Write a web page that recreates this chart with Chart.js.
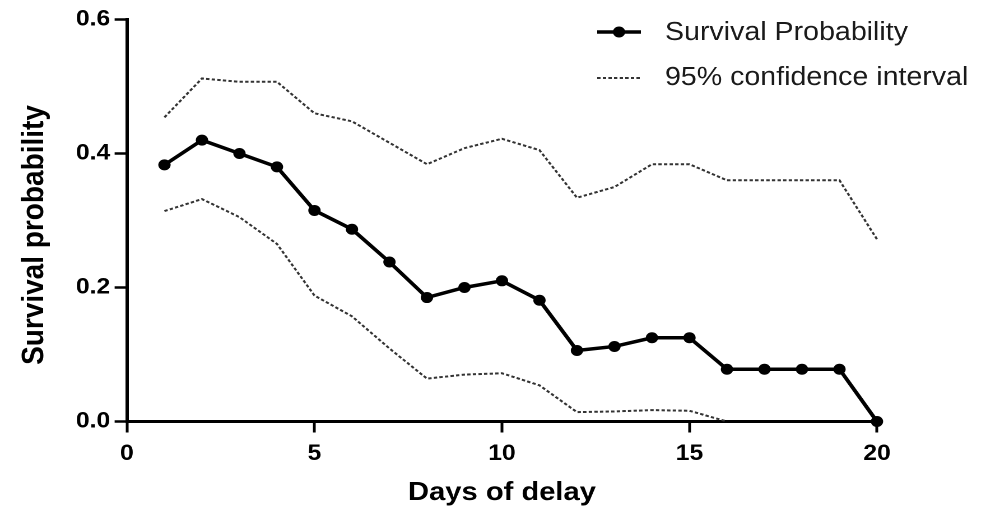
<!DOCTYPE html>
<html>
<head>
<meta charset="utf-8">
<script src="https://cdn.jsdelivr.net/npm/chart.js@4.4.1/dist/chart.umd.min.js"></script>
<style>
  html, body { margin: 0; padding: 0; background: #fff; overflow: hidden; }
  #wrap { width: 880px; height: 506px; transform: scaleX(1.12045); transform-origin: 0 0; }
</style>
</head>
<body>
<div id="wrap"><canvas id="c" width="880" height="506"></canvas></div>
<script>
// Days after which survival is estimated
const days = [1, 2, 3, 4, 5, 6, 7, 8, 9, 10, 11, 12, 13, 14, 15, 16, 17, 18, 19, 20];

// Estimated survival probability per day
const survival = [0.383, 0.420, 0.400, 0.380, 0.315, 0.287, 0.238, 0.185, 0.200, 0.210,
                  0.181, 0.106, 0.112, 0.125, 0.125, 0.078, 0.078, 0.078, 0.078, 0.000];

// Upper and lower bounds of the 95% confidence interval
const upperCI = [0.454, 0.512, 0.507, 0.507, 0.460, 0.448, 0.416, 0.384, 0.408, 0.422,
                 0.405, 0.334, 0.350, 0.384, 0.384, 0.360, 0.360, 0.360, 0.360, 0.272];
const lowerCI = [0.314, 0.332, 0.305, 0.265, 0.188, 0.157, 0.109, 0.064, 0.070, 0.072,
                 0.054, 0.014, 0.015, 0.017, 0.016, 0.000];

const xTicks = [0, 5, 10, 15, 20];
const yTicks = [0.0, 0.2, 0.4, 0.6];

const xTitle = 'Days of delay';
const yTitle = 'Survival probability';
const seriesLabel = 'Survival Probability';
const ciLabel = '95% confidence interval';

const FONT = "'Liberation Sans', Arial, Helvetica, sans-serif";

const toPoints = (vals) => vals.map((v, i) => ({ x: days[i], y: v }));

// Rotated y title and the legend box in the upper right
const decorations = {
  id: 'decorations',
  afterDraw(chart) {
    const ctx = chart.ctx;
    ctx.save();
    ctx.fillStyle = '#000';
    ctx.font = `bold 28px ${FONT}`;
    ctx.textAlign = 'center';
    ctx.textBaseline = 'middle';
    ctx.translate(31, 235);
    ctx.rotate(-Math.PI / 2);
    ctx.fillText(yTitle, 0, 0);
    ctx.restore();

    const main = chart.data.datasets[0];
    const ci = chart.data.datasets[1];
    const x0 = 533, x1 = 572, tx = 593.5;
    ctx.save();
    // solid line with marker
    ctx.strokeStyle = main.borderColor;
    ctx.lineWidth = main.borderWidth;
    ctx.beginPath(); ctx.moveTo(x0, 32); ctx.lineTo(x1, 32); ctx.stroke();
    ctx.fillStyle = main.backgroundColor;
    ctx.beginPath(); ctx.arc((x0 + x1) / 2, 32, main.pointRadius, 0, Math.PI * 2); ctx.fill();
    // dotted line
    ctx.strokeStyle = ci.borderColor;
    ctx.lineWidth = ci.borderWidth;
    ctx.setLineDash(ci.borderDash);
    ctx.beginPath(); ctx.moveTo(x0, 78); ctx.lineTo(x1, 78); ctx.stroke();
    ctx.setLineDash([]);
    // labels
    ctx.fillStyle = '#1a1a1a';
    ctx.font = `25.5px ${FONT}`;
    ctx.textAlign = 'left';
    ctx.textBaseline = 'middle';
    ctx.fillText(seriesLabel, tx, 33);
    ctx.fillText(ciLabel, tx, 78);
    ctx.restore();
  }
};

const tickFont = { family: FONT, size: 22, weight: 'bold' };

new Chart(document.getElementById('c'), {
  type: 'line',
  data: {
    datasets: [
      {
        label: seriesLabel,
        data: toPoints(survival),
        borderColor: '#000',
        backgroundColor: '#000',
        borderWidth: 3.5,
        pointRadius: 5.5,
        pointBorderWidth: 0,
        pointBackgroundColor: '#000',
        tension: 0,
        clip: false,
        order: 0
      },
      {
        label: ciLabel,
        data: toPoints(upperCI),
        borderColor: '#333',
        borderWidth: 2,
        borderDash: [3, 2],
        pointRadius: 0,
        tension: 0,
        clip: false,
        order: 1
      },
      {
        label: ciLabel + ' (lower)',
        data: toPoints(lowerCI),
        borderColor: '#333',
        borderWidth: 2,
        borderDash: [3, 2],
        pointRadius: 0,
        tension: 0,
        clip: false,
        order: 1
      }
    ]
  },
  options: {
    responsive: false,
    devicePixelRatio: 2,
    animation: false,
    layout: { padding: { left: 0, top: 19.5, right: 97.3, bottom: 0 } },
    plugins: { legend: { display: false }, tooltip: { enabled: false } },
    scales: {
      x: {
        type: 'linear',
        min: 0,
        max: 20,
        afterFit(s) { s.height = 84.5; },
        afterBuildTicks(s) { s.ticks = xTicks.map(v => ({ value: v })); },
        border: { display: true, width: 3, color: '#000' },
        grid: { drawOnChartArea: false, drawTicks: true, tickLength: 11, tickWidth: 2.5, tickColor: '#000' },
        ticks: { padding: 8, color: '#000', font: tickFont, maxRotation: 0 },
        title: {
          display: true,
          text: xTitle,
          color: '#000',
          font: { family: FONT, size: 26, weight: 'bold', lineHeight: 1.0 },
          padding: { top: 0, bottom: 0 }
        }
      },
      y: {
        type: 'linear',
        min: 0,
        max: 0.6,
        afterFit(s) { s.width = 113.3; },
        afterBuildTicks(s) { s.ticks = yTicks.map(v => ({ value: v })); },
        border: { display: true, width: 3, color: '#000' },
        grid: { drawOnChartArea: false, drawTicks: true, tickLength: 11, tickWidth: 2.5, tickColor: '#000' },
        ticks: { padding: 4, color: '#000', font: tickFont, callback: v => Number(v).toFixed(1) }
      }
    }
  },
  plugins: [decorations]
});
</script>
</body>
</html>
